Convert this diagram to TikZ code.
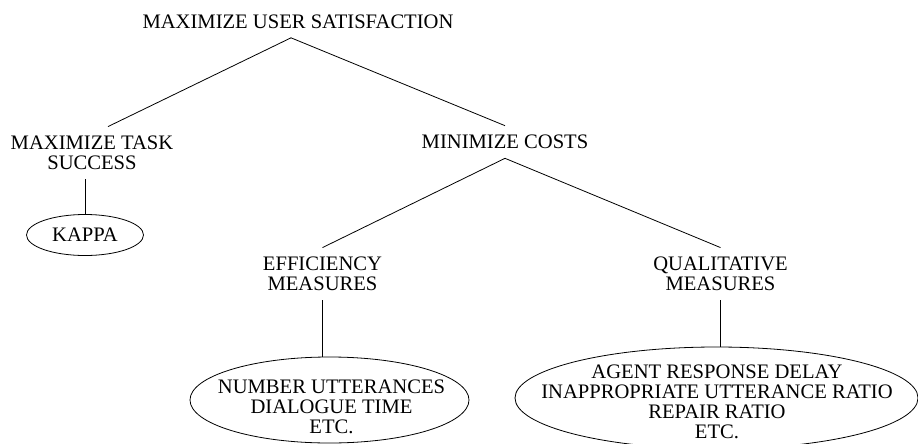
\documentclass[tikz,border=0pt]{standalone}
\usepackage{fontspec}
\setmainfont{Liberation Serif}
\usetikzlibrary{shapes.geometric}

\begin{document}
\begin{tikzpicture}[x=1pt, y=-1pt, line width=0.8pt,
    goal/.style={font=\fontsize{20.6}{20.2}\selectfont, align=center, inner xsep=0pt, inner ysep=9pt},
    oval/.style={draw, ellipse, inner sep=0pt, font=\fontsize{20.6}{20.2}\selectfont},
    items/.style={font=\fontsize{20.6}{20.2}\selectfont, align=center, inner sep=0pt}]
    \useasboundingbox (0,0) rectangle (918,444);
    % Goals
    \node[goal] (root) at (298,21.5) {MAXIMIZE USER SATISFACTION};
    \node[goal] (task) at (92,153) {MAXIMIZE TASK\\SUCCESS};
    \node[goal] (costs) at (505,142) {MINIMIZE COSTS};
    \node[goal] (effic) at (322.5,274) {EFFICIENCY\\MEASURES};
    \node[goal] (qual) at (720.5,274) {QUALITATIVE\\MEASURES};

    % Measures
    \node[oval, minimum width=117pt, minimum height=41pt] (kappa) at (85,235) {KAPPA};
    \node[oval, minimum width=279pt, minimum height=86pt] (numbers) at (329.5,400) {};
    \node[items] (numberstext) at (331.5,407) {NUMBER UTTERANCES\\DIALOGUE TIME\\ETC.};
    \node[oval, minimum width=403pt, minimum height=102pt] (agents) at (716.5,398) {};
    \node[items] (agentstext) at (717,402) {AGENT RESPONSE DELAY\\INAPPROPRIATE UTTERANCE RATIO\\REPAIR RATIO\\ETC.};

    % Draw lines
    \draw ([xshift=-7pt]root.south) -- ([xshift=16pt]task.north);
    \draw ([xshift=-7pt]root.south) -- (costs.north);
    \draw (costs.south) -- (effic.north);
    \draw (costs.south) -- (qual.north);
    \draw (kappa.north |- task.south) -- (kappa.north);
    \draw (effic.south) -- (effic.south |- numbers.north);
    \draw (qual.south) -- (qual.south |- agents.north);
\end{tikzpicture}
\end{document}
